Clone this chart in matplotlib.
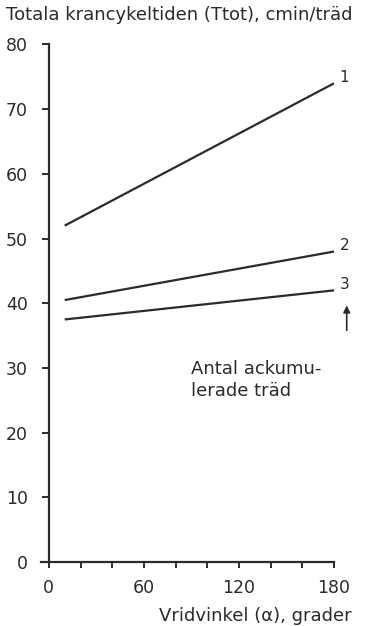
import matplotlib.pyplot as plt
from matplotlib.ticker import MultipleLocator

# vridvinkel (grader) och total krancykeltid (cmin/träd)
vinkel = [10, 180]
serie_1 = [52.0, 74.0]
serie_2 = [40.5, 48.0]
serie_3 = [37.5, 42.0]
etiketter = ['1', '2', '3']
y_ticks = [0, 10, 20, 30, 40, 50, 60, 70, 80]
x_ticks = [0, 60, 120, 180]

ink = '#2b2b2b'

fig = plt.figure(figsize=(3.72, 6.26), dpi=100)
ax = fig.add_axes([0.110, 0.102, 0.788, 0.827])

for ys, lab in zip([serie_1, serie_2, serie_3], etiketter):
    ax.plot(vinkel, ys, color=ink, lw=1.6, solid_capstyle='butt')
    ax.annotate(lab, (vinkel[-1], ys[-1]), xytext=(4, 4), textcoords='offset points',
                fontsize=11, color=ink, ha='left', va='center')

# pil under serie 3
ax.annotate('', xy=(188, serie_3[-1] - 1.9), xytext=(188, serie_3[-1] - 6.6),
            arrowprops=dict(arrowstyle='-|>', color=ink, lw=1.2, mutation_scale=10),
            annotation_clip=False)

ax.text(90, 31.2, 'Antal ackumu-\nlerade träd', fontsize=13, color=ink,
        ha='left', va='top', linespacing=1.25)

ax.set_xlim(-5, 180)
ax.set_ylim(0, 80)
ax.spines['top'].set_visible(False)
ax.spines['right'].set_visible(False)
ax.spines['left'].set_position(('data', 0))
for s in ['left', 'bottom']:
    ax.spines[s].set_color(ink)
    ax.spines[s].set_linewidth(1.6)

ax.set_yticks(y_ticks)
ax.set_xticks(x_ticks)
ax.xaxis.set_minor_locator(MultipleLocator(20))
ax.tick_params(axis='y', direction='out', length=5, width=1.4, color=ink,
               labelsize=12.5, labelcolor=ink, pad=10)
ax.tick_params(axis='x', which='both', direction='out', length=4, width=1.4, color=ink,
               labelsize=12.5, labelcolor=ink, pad=8)

fig.text(0.016, 0.976, 'Totala krancykeltiden (Ttot), cmin/träd', fontsize=13,
         color=ink, ha='left', va='center')
fig.text(0.946, 0.016, 'Vridvinkel (α), grader', fontsize=13, color=ink,
         ha='right', va='center')

plt.savefig('out.png', dpi=100)
